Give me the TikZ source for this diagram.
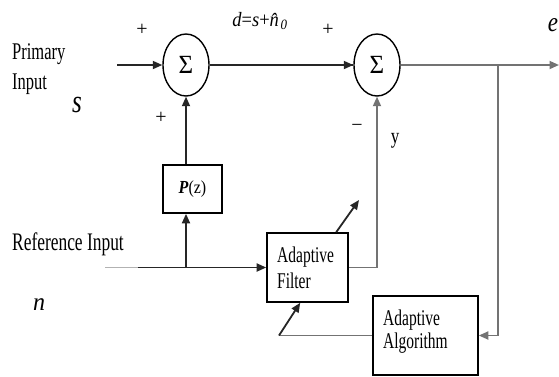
\documentclass[tikz,border=0pt]{standalone}
\usepackage{fontspec}
\setmainfont{Liberation Serif}
\usepackage{graphicx}
\usetikzlibrary{arrows.meta,shapes.geometric,calc}
\newcommand{\vsx}[2][1.45]{\scalebox{1}[#1]{#2}}
\newcommand{\fs}[1]{\fontsize{#1}{#1}\selectfont}
\begin{document}
\begin{tikzpicture}[x=1pt,y=-1pt,
  wire/.style={line width=1.8pt,black!85},
  gwire/.style={line width=1.8pt,black!55},
  tip/.style={-{Triangle[length=9.5pt,width=8pt]}},
  sumnode/.style={ellipse,draw,line width=1.4pt,minimum width=46pt,minimum height=62pt,inner sep=0pt,font=\fs{25}},
  blockbox/.style={rectangle,draw,line width=1.6pt,inner sep=0pt},
  lbl/.style={inner sep=0pt,anchor=base west},
  sign/.style={inner sep=0pt,font=\fs{20}},
]
\useasboundingbox (0,0) rectangle (559,376);
% summing junctions
\node[sumnode] (sum1) at (186,65) {\vsx[1.05]{Σ}};
\node[sumnode] (sum2) at (377,65) {\vsx[1.05]{Σ}};
% blocks
\node[blockbox,minimum width=59pt,minimum height=48pt] (pz) at (192.5,189) {\fs{16}\vsx[1.15]{\textbf{\textit{P}}(z)}};
\node[blockbox,minimum width=81pt,minimum height=69pt] (af) at (307.5,267.5) {};
\node[blockbox,minimum width=105pt,minimum height=79pt] (aa) at (425.5,335.5) {};
% block texts
\node[lbl,font=\fs{15.5}] (aft1) at (277,262) {\vsx{Adaptive}};
\node[lbl,font=\fs{15.5}] (aft2) at (277,288) {\vsx{Filter}};
\node[lbl,font=\fs{15.5}] (aat1) at (383,325) {\vsx{Adaptive}};
\node[lbl,font=\fs{15.5}] (aat2) at (383,348) {\vsx{Algorithm}};
% input labels
\node[lbl,font=\fs{16.5}] (pi1) at (12,59) {\vsx{Primary}};
\node[lbl,font=\fs{16.5}] (pi2) at (12,89) {\vsx{Input}};
\node[lbl,font=\fs{17.4}] (ri) at (12,250) {\vsx{Reference Input}};
\node[inner sep=0pt,font=\fs{25}] (slbl) at (77,105) {\vsx[1.3]{\textit{s}}};
\node[inner sep=0pt,font=\fs{24}] (nlbl) at (39,305) {\vsx[1.05]{\textit{n}}};
\node[inner sep=0pt,font=\fs{23}] (elbl) at (553,25) {\vsx[1.2]{\textit{e}}};
\node[inner sep=0pt,font=\fs{17}] (ylbl) at (395,141) {\vsx[1.3]{y}};
\node[inner sep=0pt,font=\fs{18.5}] (dlbl) at (260,21) {\vsx[1.1]{\textit{d}=\textit{s}+\textit{n̂}\kern-0.28em\textsubscript{\textit{0}}}};
% signs
\node[sign] (p1) at (142,30) {+};
\node[sign] (p2) at (161,118) {+};
\node[sign] (p3) at (328,30) {+};
\node[sign] (m1) at (357,128) {−};
% coordinates
\coordinate (pin) at (117,65);
\coordinate (rin) at (105,267.5);
\coordinate (jn) at (186,267.5);
\coordinate (br) at (498,65);
\coordinate (eout) at (559,65);
\coordinate (fb) at (279,335.5);
\coordinate (fbtip) at ($(af.south west)+(34,0)$);
\coordinate (upstart) at ($(af.north west)+(70,0)$);
\coordinate (uptip) at (359,200);
% connectors
\draw[wire,tip] (pin) -- (sum1.west);
\draw[wire] (sum1.east) -- (sum2.west);
\draw[wire,tip] ($(sum2.west)+(-30,0)$) -- (sum2.west);
\draw[wire,tip] (pz.north -| sum1.south) -- (sum1.south);
\draw[black!30,line width=1pt] (rin) -- ($(rin)+(33,0)$);
\draw[wire,tip] ($(rin)+(33,0)$) -- (af.west);
\draw[wire,tip] (jn) -- (jn |- pz.south);
\draw[gwire] (sum2.east) -- (br);
\draw[gwire,tip] (br) -- (eout);
\draw[gwire,tip] (br) |- (aa.east);
\draw[gwire,tip] (af.east) -| (sum2.south);
\draw[gwire] (aa.west) -- (fb);
\draw[wire,tip] (fb) -- (fbtip);
\draw[wire,tip] (upstart) -- (uptip);
\end{tikzpicture}
\end{document}
